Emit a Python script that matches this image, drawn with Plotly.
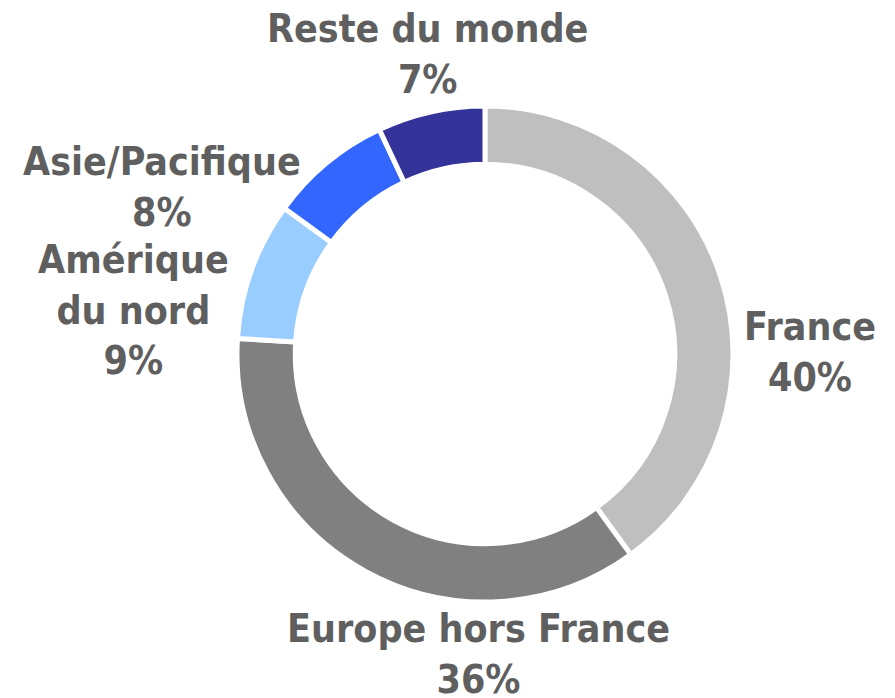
import plotly.graph_objects as go

W, H = 895, 698
OFF = 8  # page body margin in the browser

labels = ["France", "Europe hors France", "Amérique du nord", "Asie/Pacifique", "Reste du monde"]
values = [40, 36, 9, 8, 7]
colors = ["#BFBFBF", "#808080", "#99CCFF", "#3366FF", "#333399"]

label_texts = ["France<br>40%", "Europe hors France<br>36%", "Amérique<br>du nord<br>9%",
               "Asie/Pacifique<br>8%", "Reste du monde<br>7%"]
label_pos_px = [(810, 352), (478, 654), (134, 310), (162, 187), (427, 54)]

cx, cy, r = 485, 354, 248

fig = go.Figure(go.Pie(
    labels=labels, values=values, hole=0.765, sort=False, direction="clockwise",
    rotation=0, textinfo="none", hoverinfo="label+percent",
    marker=dict(colors=colors, line=dict(color="white", width=5)),
    domain=dict(x=[(cx - r - OFF) / W, (cx + r - OFF) / W],
                y=[1 - (cy + r - OFF) / H, 1 - (cy - r - OFF) / H]),
    showlegend=False,
))

for t, (x, y) in zip(label_texts, label_pos_px):
    fig.add_annotation(text=t, x=(x - OFF) / W, y=1 - (y - OFF) / H, xref="paper", yref="paper",
                       xanchor="center", yanchor="middle", showarrow=False, align="center",
                       font=dict(family="DejaVu Sans Condensed, DejaVu Sans", size=39,
                                 color="#5F5F5F", weight="bold"))

fig.update_layout(width=W, height=H, margin=dict(l=0, r=0, t=0, b=0),
                  paper_bgcolor="white", plot_bgcolor="white")
fig.write_html("out.html")
